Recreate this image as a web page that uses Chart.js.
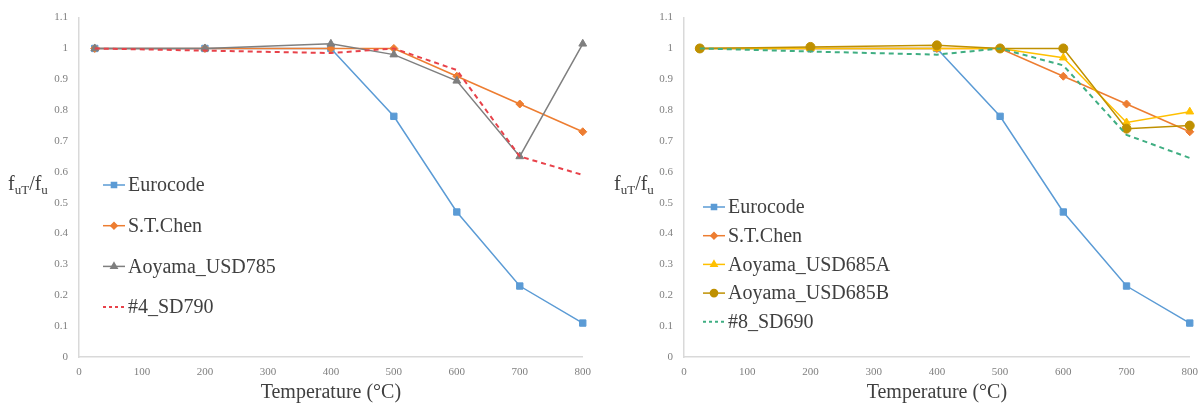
<!DOCTYPE html>
<html>
<head>
<meta charset="utf-8">
<script src="https://cdn.jsdelivr.net/npm/chart.js@4/dist/chart.umd.min.js"></script>
<style>
  body { margin: 0; background: #fff; width: 1203px; height: 407px; overflow: hidden; position: relative; }
  .panel { position: absolute; top: 0; }
  .ytitle { position: absolute; font-family: "Liberation Serif", serif; font-size: 20px; color: #404040; white-space: nowrap; }
  .ytitle sub { font-size: 13px; vertical-align: -4px; }
</style>
</head>
<body>
<div class="panel" style="left:0px;width:600px;height:407px"><canvas id="leftChart" width="600" height="407"></canvas></div>
<div class="panel" style="left:600px;width:607px;height:407px"><canvas id="rightChart" width="607" height="407"></canvas></div>
<div class="ytitle" style="left:8px;top:172px">f<sub>uT</sub>/f<sub>u</sub></div>
<div class="ytitle" style="left:614px;top:172px">f<sub>uT</sub>/f<sub>u</sub></div>
<script>
// temperatures (°C)
const temps = [25, 200, 400, 500, 600, 700, 800];
const xTicks = [0, 100, 200, 300, 400, 500, 600, 700, 800];
const yTicks = [0, 0.1, 0.2, 0.3, 0.4, 0.5, 0.6, 0.7, 0.8, 0.9, 1, 1.1];

// fuT/fu ratios
const eurocode = [1, 1, 1, 0.78, 0.47, 0.23, 0.11];
const stChen = [1, 1, 1, 1, 0.91, 0.82, 0.73];
const aoyamaUSD785 = [1, 1, 1.015, 0.98, 0.895, 0.65, 1.015];
const sd790 = [1, 0.993, 0.985, 1, 0.93, 0.65, 0.59];
const aoyamaUSD685A = [1, 1, 1, 1, 0.97, 0.76, 0.795];
const aoyamaUSD685B = [1, 1.005, 1.01, 1, 1, 0.74, 0.75];
const sd690 = [1, 0.99, 0.98, 1, 0.945, 0.72, 0.645];

function pts(vals) {
  return vals.map(function (v, i) { return { x: temps[i], y: v }; });
}

function series(label, vals, color, style, radius, dash) {
  return {
    label: label,
    data: pts(vals),
    borderColor: color,
    backgroundColor: color,
    borderWidth: dash ? 2 : 1.5,
    borderDash: dash || [],
    pointStyle: style,
    pointRadius: radius,
    pointBorderWidth: 1,
    clip: false,
    tension: 0
  };
}

// legend drawn inside the plot, like the Excel original
const insideLegend = {
  id: 'insideLegend',
  afterDraw(chart, args, opts) {
    const ctx = chart.ctx;
    ctx.save();
    ctx.font = '20px "Liberation Serif"';
    ctx.textBaseline = 'middle';
    chart.data.datasets.forEach(function (ds, i) {
      const x = opts.x, y = opts.y + i * opts.gap;
      ctx.strokeStyle = ds.borderColor;
      ctx.fillStyle = ds.borderColor;
      ctx.lineWidth = ds.borderWidth;
      ctx.setLineDash(ds.borderDash.length ? [3, 3] : []);
      ctx.beginPath();
      ctx.moveTo(x, y);
      ctx.lineTo(x + 22, y);
      ctx.stroke();
      ctx.setLineDash([]);
      if (ds.pointRadius > 0) {
        Chart.helpers.drawPoint(ctx, { pointStyle: ds.pointStyle, radius: ds.pointRadius * 0.8, borderWidth: 1, rotation: 0 }, x + 11, y);
      }
      ctx.fillStyle = '#404040';
      ctx.fillText(ds.label, x + 25, y + 1);
    });
    ctx.restore();
  }
};

function makeChart(id, datasets, axisWidth, padRight, legend) {
  const n = datasets.length;
  datasets.forEach(function (d, i) { d.order = n - i; });
  return new Chart(document.getElementById(id), {
    type: 'line',
    data: { datasets: datasets },
    plugins: [insideLegend],
    options: {
      responsive: false,
      animation: false,
      layout: { padding: { top: 15, right: padRight, bottom: 0, left: 0 } },
      plugins: {
        legend: { display: false },
        tooltip: { enabled: false },
        insideLegend: legend
      },
      scales: {
        x: {
          type: 'linear',
          min: 0, max: 800,
          afterBuildTicks: function (s) { s.ticks = xTicks.map(function (v) { return { value: v }; }); },
          afterFit: function (s) { s.height = 50; },
          grid: { display: false, drawTicks: false },
          border: { color: '#d9d9d9', width: 1.5 },
          ticks: { padding: 9, color: '#7f7f7f', font: { family: 'Liberation Serif', size: 11 } },
          title: { display: true, text: 'Temperature (°C)', color: '#404040', padding: { top: 0, bottom: 2 }, font: { family: 'Liberation Serif', size: 20 } }
        },
        y: {
          min: 0, max: 1.1,
          afterBuildTicks: function (s) { s.ticks = yTicks.map(function (v) { return { value: v }; }); },
          afterFit: function (s) { s.width = axisWidth; },
          grid: { display: false, drawTicks: false },
          border: { color: '#d9d9d9', width: 1.5 },
          ticks: {
            padding: 11, color: '#7f7f7f', font: { family: 'Liberation Serif', size: 11 },
            callback: function (v) { return String(Math.round(v * 10) / 10); }
          }
        }
      }
    }
  });
}

makeChart('leftChart', [
  series('Eurocode', eurocode, '#5b9bd5', 'rect', 4.5),
  series('S.T.Chen', stChen, '#ed7d31', 'rectRot', 4),
  series('Aoyama_USD785', aoyamaUSD785, '#7f7f7f', 'triangle', 4.5),
  series('#4_SD790', sd790, '#e8424a', 'circle', 0, [5, 4])
], 79, 17, { x: 103, y: 185, gap: 40.7 });

makeChart('rightChart', [
  series('Eurocode', eurocode, '#5b9bd5', 'rect', 4.5),
  series('S.T.Chen', stChen, '#ed7d31', 'rectRot', 4),
  series('Aoyama_USD685A', aoyamaUSD685A, '#ffc000', 'triangle', 4.5),
  series('Aoyama_USD685B', aoyamaUSD685B, '#bf9000', 'circle', 4.5),
  series('#8_SD690', sd690, '#3fae82', 'circle', 0, [5, 4])
], 84, 17, { x: 103, y: 207, gap: 28.7 });
</script>
</body>
</html>
